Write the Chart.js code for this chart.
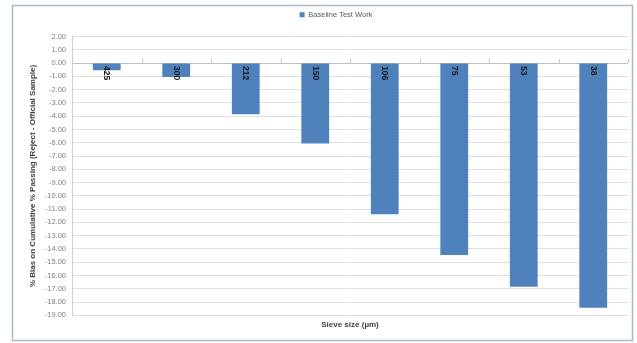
<!DOCTYPE html>
<html>
<head>
<meta charset="utf-8">
<script src="https://cdn.jsdelivr.net/npm/chart.js@4/dist/chart.umd.min.js"></script>
<style>
  html, body { margin: 0; padding: 0; background: #ffffff; }
  #wrap { width: 637px; height: 343px; position: relative; }
</style>
</head>
<body>
<div id="wrap"><canvas id="c" width="637" height="343"></canvas></div>
<script>
// Sieve sizes (µm) and the bias of reject vs. official sample
const sieveSizes = ['425', '300', '212', '150', '106', '75', '53', '38'];
const baselineBias = [-0.55, -1.05, -3.85, -6.06, -11.38, -14.46, -16.84, -18.42];
const seriesName = 'Baseline Test Work';
const yMin = -19;
const yMax = 2;
const yStep = 1;

const FONT = '"Liberation Sans", Arial, sans-serif';

// Outer frame around the whole chart
const framePlugin = {
  id: 'frame',
  beforeDraw(chart) {
    const ctx = chart.ctx;
    ctx.save();
    ctx.fillStyle = '#ffffff';
    ctx.fillRect(0, 0, chart.width, chart.height);
    ctx.strokeStyle = '#a9b9cc';
    ctx.lineWidth = 1.5;
    ctx.strokeRect(12.5, 5.5, 620, 335);
    ctx.restore();
  },
  afterLayout(chart) {
    // move the legend up and a little to the right
    const lg = chart.legend;
    if (lg) {
      lg.left += 15; lg.right += 15;
      lg.top -= 8; lg.bottom -= 8;
    }
  }
};

// Category labels sit on the zero line, rotated to read downwards
const zeroAxisPlugin = {
  id: 'zeroAxis',
  afterDatasetsDraw(chart) {
    const ctx = chart.ctx;
    const xs = chart.scales.x;
    const ys = chart.scales.y;
    const y0 = ys.getPixelForValue(0);
    ctx.save();
    // small tick marks between categories
    ctx.strokeStyle = '#c8c8c8';
    ctx.lineWidth = 1;
    for (let i = 0; i <= sieveSizes.length; i++) {
      const x = Math.round(xs.getPixelForValue(i - 0.5)) + 0.5;
      ctx.beginPath();
      ctx.moveTo(x, y0 - 4);
      ctx.lineTo(x, y0);
      ctx.stroke();
    }
    ctx.fillStyle = '#1a1a1a';
    ctx.font = 'bold 8.5px ' + FONT;
    ctx.textAlign = 'left';
    ctx.textBaseline = 'middle';
    sieveSizes.forEach((lab, i) => {
      const x = xs.getPixelForValue(i);
      ctx.save();
      ctx.translate(x, y0 + 3);
      ctx.rotate(Math.PI / 2);
      ctx.fillText(lab, 0, 0);
      ctx.restore();
    });
    ctx.restore();
  }
};

new Chart(document.getElementById('c'), {
  type: 'bar',
  data: {
    labels: sieveSizes,
    datasets: [{
      label: seriesName,
      data: baselineBias,
      backgroundColor: '#4f81bd',
      borderWidth: 0,
      barPercentage: 0.4,
      categoryPercentage: 1.0
    }]
  },
  options: {
    responsive: false,
    animation: false,
    devicePixelRatio: 1,
    layout: { padding: { left: 14, right: 9, top: 11, bottom: 13 } },
    plugins: {
      tooltip: { enabled: false },
      legend: {
        position: 'top',
        labels: {
          boxWidth: 5,
          boxHeight: 5,
          padding: 8,
          color: '#595959',
          font: { family: FONT, size: 7.5 }
        }
      }
    },
    scales: {
      x: {
        position: 'bottom',
        grid: { display: false, drawTicks: false },
        border: { display: false },
        ticks: { display: false },
        title: {
          display: true,
          text: 'Sieve size (µm)',
          color: '#404040',
          font: { family: FONT, size: 8, weight: 'bold' },
          padding: { top: 5, bottom: 0 }
        }
      },
      y: {
        min: yMin,
        max: yMax,
        afterFit(scale) { scale.width = 58; },
        ticks: {
          stepSize: yStep,
          color: '#7f7f7f',
          padding: 6,
          font: { family: FONT, size: 7.5 },
          callback: v => Number(v).toFixed(2)
        },
        grid: {
          drawTicks: false,
          color: ctx => (ctx.tick && ctx.tick.value === 0) ? '#bfbfbf' : '#e0e0e0',
          lineWidth: 1
        },
        border: { display: true, color: '#d0d0d0' },
        title: {
          display: true,
          text: '% Bias on Cumulative % Passing (Reject - Official Sample)',
          color: '#404040',
          font: { family: FONT, size: 8, weight: 'bold' },
          padding: { top: 14, bottom: 2 }
        }
      }
    }
  },
  plugins: [framePlugin, zeroAxisPlugin]
});
</script>
</body>
</html>
